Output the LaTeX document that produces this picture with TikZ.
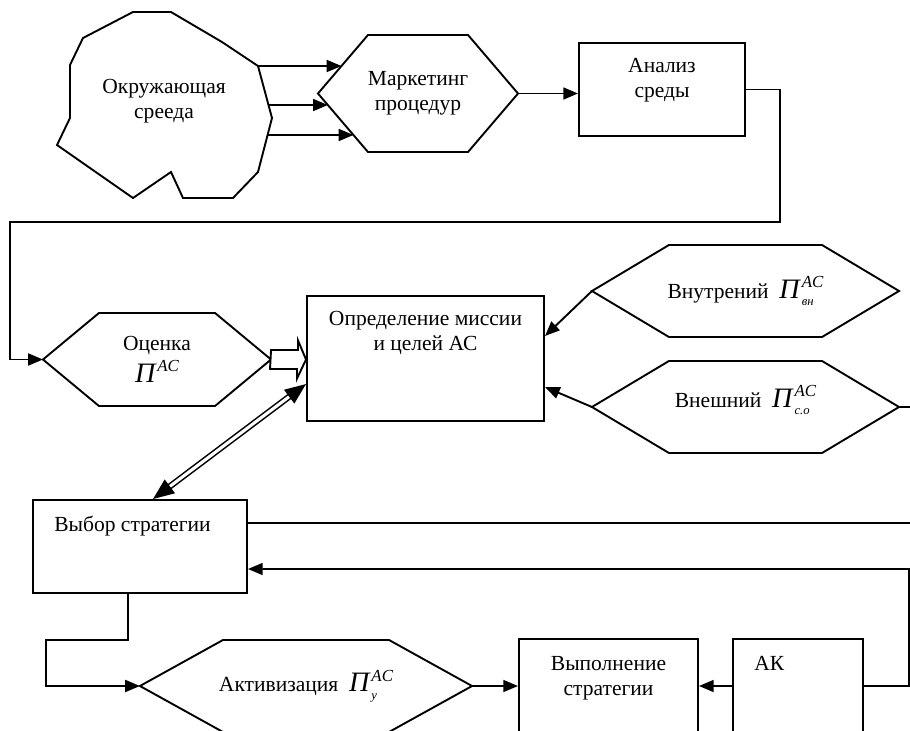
\documentclass[tikz,border=0pt]{standalone}
\usepackage{fontspec}
\setmainfont{Liberation Serif}
\usepackage{tikz}
\usetikzlibrary{arrows.meta, positioning, calc}

% П with indices, as in the scheme
\newcommand{\Pbig}{{\fontsize{20}{20}\selectfont\itshape П}\kern1.5pt}
\newcommand{\Psup}{\raisebox{7.5pt}{\fontsize{12}{12}\selectfont\itshape AC}}
\newcommand{\Pac}[1]{\Pbig\rlap{\Psup}\rlap{\raisebox{-5pt}{\fontsize{9}{9}\selectfont\itshape #1}}\hphantom{\Psup}}
% hexagon round a (named) carrier node
\newcommand{\hexframe}[2]{%
  \draw[line] (#1.west) -- ([xshift=#2]#1.north west) -- ([xshift=-#2]#1.north east)
    -- (#1.east) -- ([xshift=-#2]#1.south east) -- ([xshift=#2]#1.south west) -- cycle;}

\begin{document}
\begin{tikzpicture}[
  x=0.025cm, y=-0.025cm,
  every node/.style = {font=\fontsize{15.3}{17.7}\selectfont},
  >={Triangle[length=10.5pt, width=8.5pt]},
  % node styles
  box/.style  = {rectangle, draw, line width=1.35pt},
  hexa/.style = {rectangle, inner sep=0pt, outer sep=0pt, align=center},
  txt/.style  = {inner sep=0pt, align=center},
  % line styles
  line/.style = {line width=1.35pt},
  arr/.style  = {->, line width=1.35pt},
  darr/.style = {{Triangle[length=15pt, width=12pt]}-{Triangle[length=15pt, width=12pt]},
                 double, double distance=2.2pt, line width=1.1pt},
]
\useasboundingbox (0,0) rectangle (910,731);
\clip (0,0) rectangle (910,731);

%% Row 1: environment -> marketing -> analysis
\draw[line] (133,12) -- (171,12) -- (222,42) -- (258,66) -- (272,118) -- (258,172)
  -- (233,198) -- (183,198) -- (171,172) -- (133,198) -- (57,145) -- (70,118)
  -- (70,65) -- (83,38) -- cycle;
\node[txt] (env) at (164,101) {Окружающая\\срееда};

\node[hexa, minimum width=5cm, minimum height=2.925cm] (mkt) at (418,93.5) {Маркетинг\\процедур};
\hexframe{mkt}{1.25cm}

\node[box, minimum width=4.15cm, minimum height=2.325cm] (anal) at (662,89.5) {};
\node[txt, below=0.41cm of anal.north] (anal-t) {Анализ\\среды};

%% Row 2: estimate -> mission, inner / outer factors
\node[hexa, minimum width=5.7cm, minimum height=2.325cm] (est) at (157,359.5) {Оценка\\[3pt]\Pbig\Psup};
\hexframe{est}{1.4cm}

\node[box, minimum width=5.925cm, minimum height=3.125cm] (def) at (425.5,358.5) {};
\node[txt, below=0.39cm of def.north] (def-t) {Определение миссии\\и целей АС};

\node[hexa, minimum width=7.675cm, minimum height=2.3cm] (intl) at (745.5,291) {Внутрений~~\Pac{вн}};
\hexframe{intl}{1.925cm}
\node[hexa, minimum width=7.675cm, minimum height=2.3cm, text height=8pt, text depth=8pt] (extl) at (745.5,407) {Внешний~~\Pac{c.o}};
\hexframe{extl}{1.925cm}

%% Row 3: strategy
\node[box, minimum width=5.35cm, minimum height=2.325cm] (choice) at (140,546.5) {};
\node[txt, anchor=north west] (choice-t) at ([xshift=0.55cm, yshift=-0.41cm]choice.north west) {Выбор стратегии};

%% Row 4: activation -> execution <- AK
\node[hexa, minimum width=8.3cm, minimum height=2.3cm] (act) at (306,686) {Активизация~~\Pac{y}};
\hexframe{act}{2.075cm}

\node[box, minimum width=4.475cm, minimum height=2.35cm] (exec) at (608.5,686) {};
\node[txt, below=0.46cm of exec.north] (exec-t) {Выполнение\\стратегии};

\node[box, minimum width=3.25cm, minimum height=2.35cm] (ak) at (798,686) {};
\node[txt, anchor=north west] (ak-t) at ([xshift=0.55cm, yshift=-0.46cm]ak.north west) {АК};

%% Arrows from the environment
\coordinate (env-o1) at (258,66);
\coordinate (env-o2) at (268.5,105);
\coordinate (env-o3) at (267.6,135);
\coordinate (mkt-i1) at ($(mkt.west)!0.47!([xshift=1.25cm]mkt.north west)$);
\coordinate (mkt-i2) at ($(mkt.west)!0.197!([xshift=1.25cm]mkt.south west)$);
\coordinate (mkt-i3) at ($(mkt.west)!0.709!([xshift=1.25cm]mkt.south west)$);
\draw[arr] (env-o1) -- (env-o1 -| mkt-i1);
\draw[arr] (env-o2) -- (env-o2 -| mkt-i2);
\draw[arr] (env-o3) -- (env-o3 -| mkt-i3);

\draw[arr] (mkt.east) -- (mkt.east -| anal.west);

%% Loop back to the estimate
\coordinate (loop-r) at (780,222);
\coordinate (loop-l) at (10,222);
\draw[arr] (anal.east) -| (loop-r) -- (loop-l) |- (est.west);

%% Into the mission box
\draw[line, fill=white] ([yshift=0.2375cm]est.east) -- ++(27,0) -- ++(0,-9.5)
  -- (def.west |- est.east) -- ++(-9,19) -- ++(0,-9.5) -- ++(-27,0) -- cycle;
\draw[arr] (intl.west) -- ([yshift=0.5625cm]def.east);
\draw[arr] (extl.west) -- ([yshift=-0.7125cm]def.east);
\draw[darr] ([xshift=0.325cm]choice.north) -- ([yshift=-0.6375cm]def.west);

%% Lines leaving to the right
\coordinate (edge-ext) at (910,407);
\coordinate (edge-top) at (910,523);
\coordinate (edge-r) at (909,569);
\draw[line] (extl.east) -- (edge-ext);
\draw[line] ([yshift=0.5875cm]choice.east) -- (edge-top);
\draw[arr] (ak.east) -| (edge-r) -- ([yshift=-0.5625cm]choice.east);

%% Strategy down to activation
\coordinate (bend-l) at (46,640);
\draw[arr] ([xshift=-0.3cm]choice.south) |- (bend-l) |- (act.west);
\draw[arr] (act.east) -- (exec.west);
\draw[arr] (ak.west) -- (exec.east);

\end{tikzpicture}
\end{document}
